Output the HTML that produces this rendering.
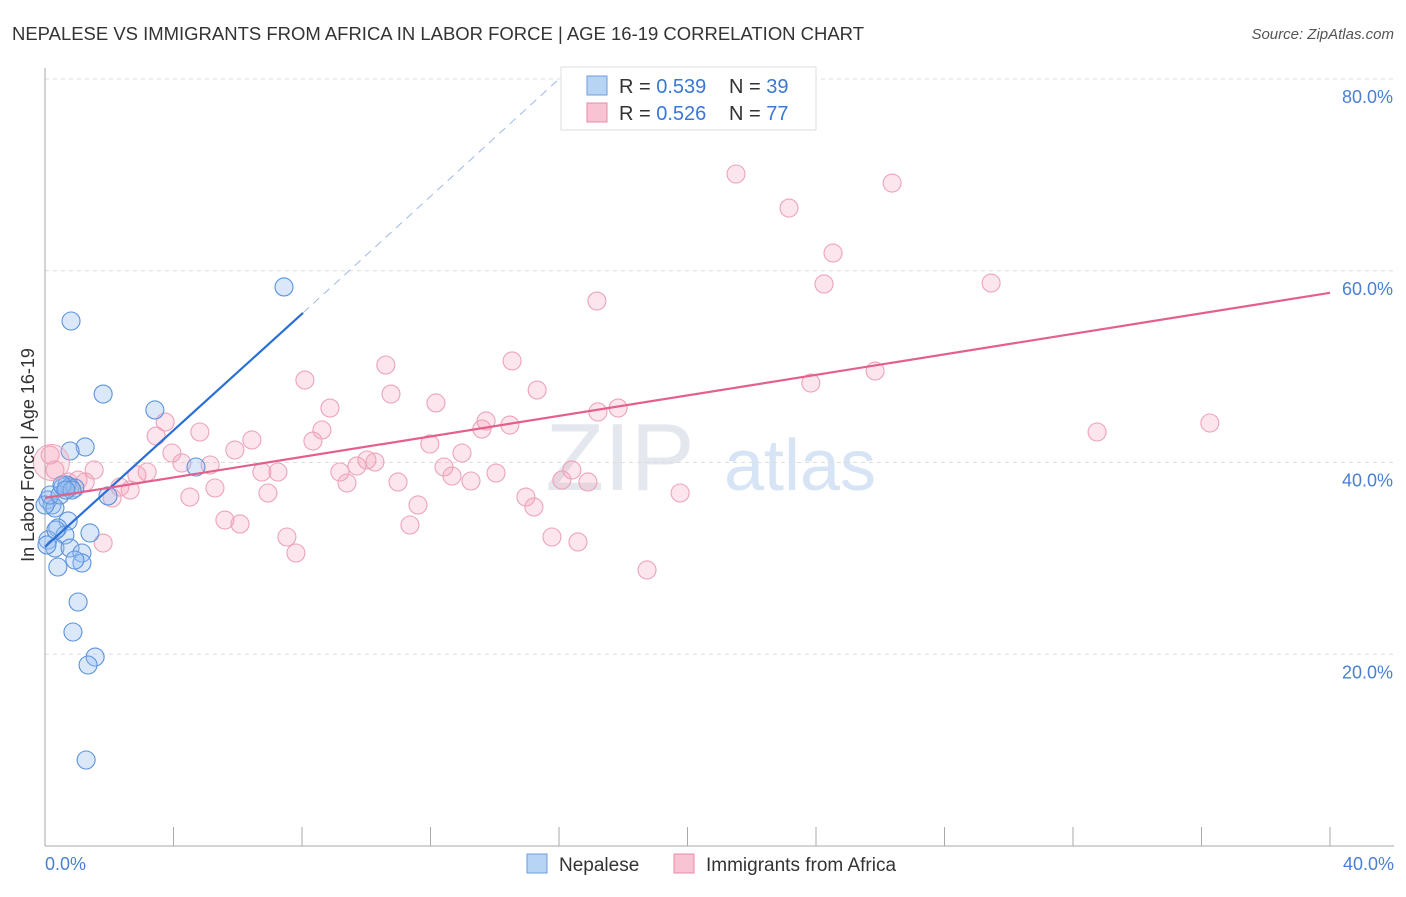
<!DOCTYPE html>
<html><head><meta charset="utf-8"><style>
body{margin:0;background:#fff;font-family:"Liberation Sans",sans-serif}
svg text{font-family:"Liberation Sans",sans-serif}
</style></head><body>
<svg width="1406" height="892">
<text x="12" y="40" font-size="18" fill="#333" textLength="852" lengthAdjust="spacingAndGlyphs">NEPALESE VS IMMIGRANTS FROM AFRICA IN LABOR FORCE | AGE 16-19 CORRELATION CHART</text>
<text x="1394" y="39" font-size="15" fill="#555" font-style="italic" text-anchor="end">Source: ZipAtlas.com</text>
<text x="620" y="490" font-size="96" fill="#e4e8ee" font-family="Liberation Serif" text-anchor="middle">ZIP</text>
<text x="800" y="490" font-size="72" fill="#d6e4f5" text-anchor="middle">atlas</text>
<g id="grid"></g><g id="axes"></g><g id="pts"></g><g id="lines"></g>
<text x="34" y="455" font-size="18" fill="#333" text-anchor="middle" transform="rotate(-90 34 455)">In Labor Force | Age 16-19</text>
<text x="45" y="870" font-size="18" fill="#4a7fd4">0.0%</text>
<text x="1394" y="870" font-size="18" fill="#4a7fd4" text-anchor="end">40.0%</text>
<g>
<rect x="561" y="67" width="255" height="63" fill="#fff" stroke="#ddd"/>
<rect x="587" y="76" width="20" height="19" fill="#b8d4f5" stroke="#6d9de0"/>
<rect x="587" y="103" width="20" height="19" fill="#f8c4d3" stroke="#e88aa8"/>
<text x="619" y="93" font-size="20" fill="#333">R = <tspan fill="#3a78d6">0.539</tspan></text>
<text x="729" y="93" font-size="20" fill="#333">N = <tspan fill="#3a78d6">39</tspan></text>
<text x="619" y="120" font-size="20" fill="#333">R = <tspan fill="#3a78d6">0.526</tspan></text>
<text x="729" y="120" font-size="20" fill="#333">N = <tspan fill="#3a78d6">77</tspan></text>
</g>
<g>
<rect x="527" y="854" width="20" height="19" fill="#b8d4f5" stroke="#6d9de0"/>
<text x="559" y="871" font-size="19" fill="#333">Nepalese</text>
<rect x="674" y="854" width="20" height="19" fill="#f8c4d3" stroke="#e88aa8"/>
<text x="706" y="871" font-size="19" fill="#333">Immigrants from Africa</text>
</g>
</svg>
<script>
const yTicks=[20,40,60,80];
const yTickLabels=["20.0%","40.0%","60.0%","80.0%"];
const xTicks=[0,4,8,12,16,20,24,28,32,36,40];
const bluePx=[[71,321],[103,394],[155,410],[85,447],[70,451],[196,467],[63,487],[70,487],[67,485],[75,488],[108,496],[48,500],[52,505],[55,508],[45,505],[68,521],[58,528],[65,535],[90,533],[48,540],[55,548],[70,548],[82,553],[82,563],[75,560],[58,567],[78,602],[73,632],[95,657],[88,665],[86,760],[284,287],[50,495],[60,495],[47,545],[62,485],[72,490],[56,530],[66,490]];
const pinkPx=[[50,455],[55,470],[94,470],[68,482],[85,482],[78,480],[112,498],[103,543],[120,487],[130,490],[147,472],[137,475],[156,436],[165,422],[172,453],[182,463],[190,497],[200,432],[210,465],[215,488],[225,520],[235,450],[240,524],[252,440],[262,472],[268,493],[278,472],[287,537],[296,553],[305,380],[313,441],[322,430],[330,408],[340,472],[347,483],[357,466],[367,460],[375,462],[386,365],[391,394],[398,482],[410,525],[418,505],[430,444],[436,403],[444,467],[452,476],[462,453],[471,481],[482,429],[486,421],[496,473],[510,425],[512,361],[526,497],[534,507],[537,390],[552,537],[562,480],[572,470],[578,542],[588,482],[597,301],[598,412],[618,408],[647,570],[680,493],[736,174],[789,208],[811,383],[824,284],[833,253],[875,371],[892,183],[991,283],[1097,432],[1210,423]];
const toData=p=>[+((p[0]-45)/1285*40).toFixed(2),+((846-p[1])/9.5875).toFixed(2)];
const nepaleseX=bluePx.map(p=>toData(p)[0]), nepaleseY=bluePx.map(p=>toData(p)[1]);
const africaX=pinkPx.map(p=>toData(p)[0]), africaY=pinkPx.map(p=>toData(p)[1]);
const blueTrend=[[0,31.2],[8.03,55.6]];
const blueTrendExt=[[8.03,55.6],[16,80]];
const pinkTrend=[[0,36.3],[40,57.7]];
const X=v=>45+v/40*1285, Y=v=>846-v*9.5875;
const NS="http://www.w3.org/2000/svg";
function mk(t,a,parent){const e=document.createElementNS(NS,t);for(const k in a)e.setAttribute(k,a[k]);document.getElementById(parent).appendChild(e);return e;}
yTicks.forEach((t,i)=>{
 const l=mk('line',{x1:45,x2:1394,y1:Y(t),y2:Y(t),stroke:'#ddd','stroke-dasharray':'4,4'},'grid');
 
 
 const tx=mk('text',{x:1393,y:Y(t)+24,'font-size':18,fill:'#4a7fd4','text-anchor':'end'},'grid');
 tx.textContent=yTickLabels[i];
 
 
});
const ya=mk('line',{x1:45,x2:45,y1:68,y2:846,stroke:'#aaa'},'axes');


const xa=mk('line',{x1:45,x2:1394,y1:846,y2:846,stroke:'#aaa'},'axes');


xTicks.forEach(t=>{const l=mk('line',{x1:X(t),x2:X(t),y1:827,y2:846,stroke:'#aaa'},'axes');
 
 });
africaX.forEach((x,i)=>{const c=mk('circle',{cx:X(x),cy:Y(africaY[i]),r:9,fill:'rgba(244,160,185,0.28)',stroke:'#eda3b9','stroke-width':1.1},'pts');
 
 });
nepaleseX.forEach((x,i)=>{const c=mk('circle',{cx:X(x),cy:Y(nepaleseY[i]),r:9,fill:'rgba(150,190,240,0.35)',stroke:'#5b93dd','stroke-width':1.1},'pts');
 
 });
const big=mk('circle',{cx:X(0.2),cy:Y(40),r:18,fill:'rgba(244,160,185,0.25)',stroke:'#eda3b9'},'pts');


const bl=mk('line',{x1:X(blueTrend[0][0]),y1:Y(blueTrend[0][1]),x2:X(blueTrend[1][0]),y2:Y(blueTrend[1][1]),stroke:'#2a6fd6','stroke-width':2.2},'lines');


const bd=mk('line',{x1:X(blueTrendExt[0][0]),y1:Y(blueTrendExt[0][1]),x2:X(blueTrendExt[1][0]),y2:Y(blueTrendExt[1][1]),stroke:'#9bbbe8','stroke-width':1,'stroke-dasharray':'8,6'},'lines');


const pl=mk('line',{x1:X(pinkTrend[0][0]),y1:Y(pinkTrend[0][1]),x2:X(pinkTrend[1][0]),y2:Y(pinkTrend[1][1]),stroke:'#e4608c','stroke-width':2.2},'lines');


</script>
</body></html>
